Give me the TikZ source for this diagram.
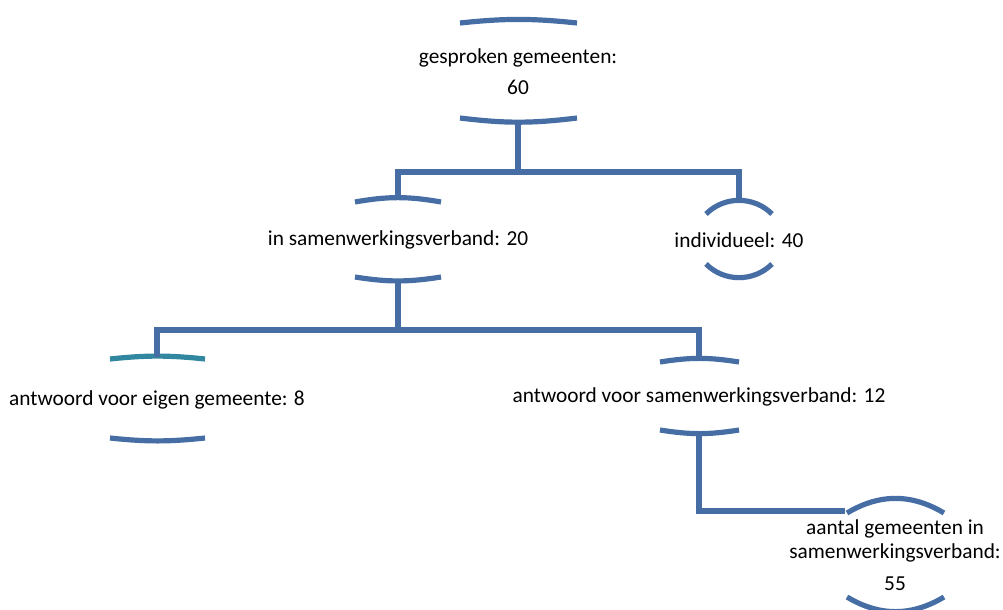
\documentclass[tikz,border=0pt]{standalone}
\usepackage{fontspec}
\setmainfont{Carlito}
\definecolor{lineblue}{RGB}{70,110,165}
\definecolor{tealline}{RGB}{50,135,160}
\begin{document}
\begin{tikzpicture}[x=0.75pt,y=-0.75pt,
  arcline/.style={draw=lineblue,line width=3.9pt},
  conn/.style={draw=lineblue,line width=3.8pt},
  lbl/.style={font=\fontsize{16}{18}\selectfont,inner sep=0pt,align=center,text=black}]
\useasboundingbox (0,0) rectangle (1003,610);

% node 1
\node[lbl] (n1) at (518,72) {gesproken gemeenten:\\[5pt]60};
\coordinate (n1tl) at (460,23); \coordinate (n1tr) at (577,23);
\coordinate (n1bl) at (460,118); \coordinate (n1br) at (577,118);
\draw[arcline] (n1tl) to[bend left=6] (n1tr);
\draw[arcline] (n1bl) to[bend right=7] (n1br);
\coordinate (n1b) at (518,121);

% node 2
\node[lbl] (n2) at (398,240) {in samenwerkingsverband: 20};
\coordinate (n2tl) at (355,202); \coordinate (n2tr) at (441,202);
\coordinate (n2bl) at (355,277); \coordinate (n2br) at (441,277);
\draw[arcline] (n2tl) to[bend left=10] (n2tr);
\draw[arcline] (n2bl) to[bend right=9] (n2br);
\coordinate (n2t) at (398,198); \coordinate (n2b) at (398,280);

% node 3
\node[lbl] (n3) at (739,240) {individueel: 40};
\coordinate (n3tl) at (706,214); \coordinate (n3tr) at (772,214);
\coordinate (n3bl) at (706,264); \coordinate (n3br) at (772,264);
\draw[arcline] (n3tl) to[bend left=45] (n3tr);
\draw[arcline] (n3bl) to[bend right=45] (n3br);
\coordinate (n3t) at (739,201);

% node 4
\node[lbl] (n4) at (157,400) {antwoord voor eigen gemeente: 8};
\coordinate (n4tl) at (110,359); \coordinate (n4tr) at (205,359);
\coordinate (n4bl) at (110,438); \coordinate (n4br) at (205,438);
\draw[draw=tealline,line width=3.9pt] (n4tl) to[bend left=6] (n4tr);
\draw[arcline] (n4bl) to[bend right=6] (n4br);
\coordinate (n4t) at (157,357);

% node 5
\node[lbl] (n5) at (699,397) {antwoord voor samenwerkingsverband: 12};
\coordinate (n5tl) at (660,362); \coordinate (n5tr) at (739,362);
\coordinate (n5bl) at (660,430); \coordinate (n5br) at (739,430);
\draw[arcline] (n5tl) to[bend left=9] (n5tr);
\draw[arcline] (n5bl) to[bend right=9] (n5br);
\coordinate (n5t) at (699,359); \coordinate (n5b) at (699,433);

% node 6
\node[lbl] (n6) at (895,555) {aantal gemeenten in\\samenwerkingsverband:\\[6pt]55};
\coordinate (n6tl) at (847,513); \coordinate (n6tr) at (944,513);
\coordinate (n6bl) at (847,597); \coordinate (n6br) at (944,597);
\draw[arcline] (n6tl) to[bend left=31] (n6tr);
\draw[arcline] (n6bl) to[bend right=31] (n6br);
\coordinate (n6l) at (845,511);

% connectors
\draw[conn] (n1b) -- ++(0,51) -| (n2t);
\draw[conn] (n1b) -- ++(0,51) -| (n3t);
\draw[conn] (n2b) -- ++(0,50) -| (n4t);
\draw[conn] (n2b) -- ++(0,50) -| (n5t);
\draw[conn] (n5b) |- (n6l);
\end{tikzpicture}
\end{document}
